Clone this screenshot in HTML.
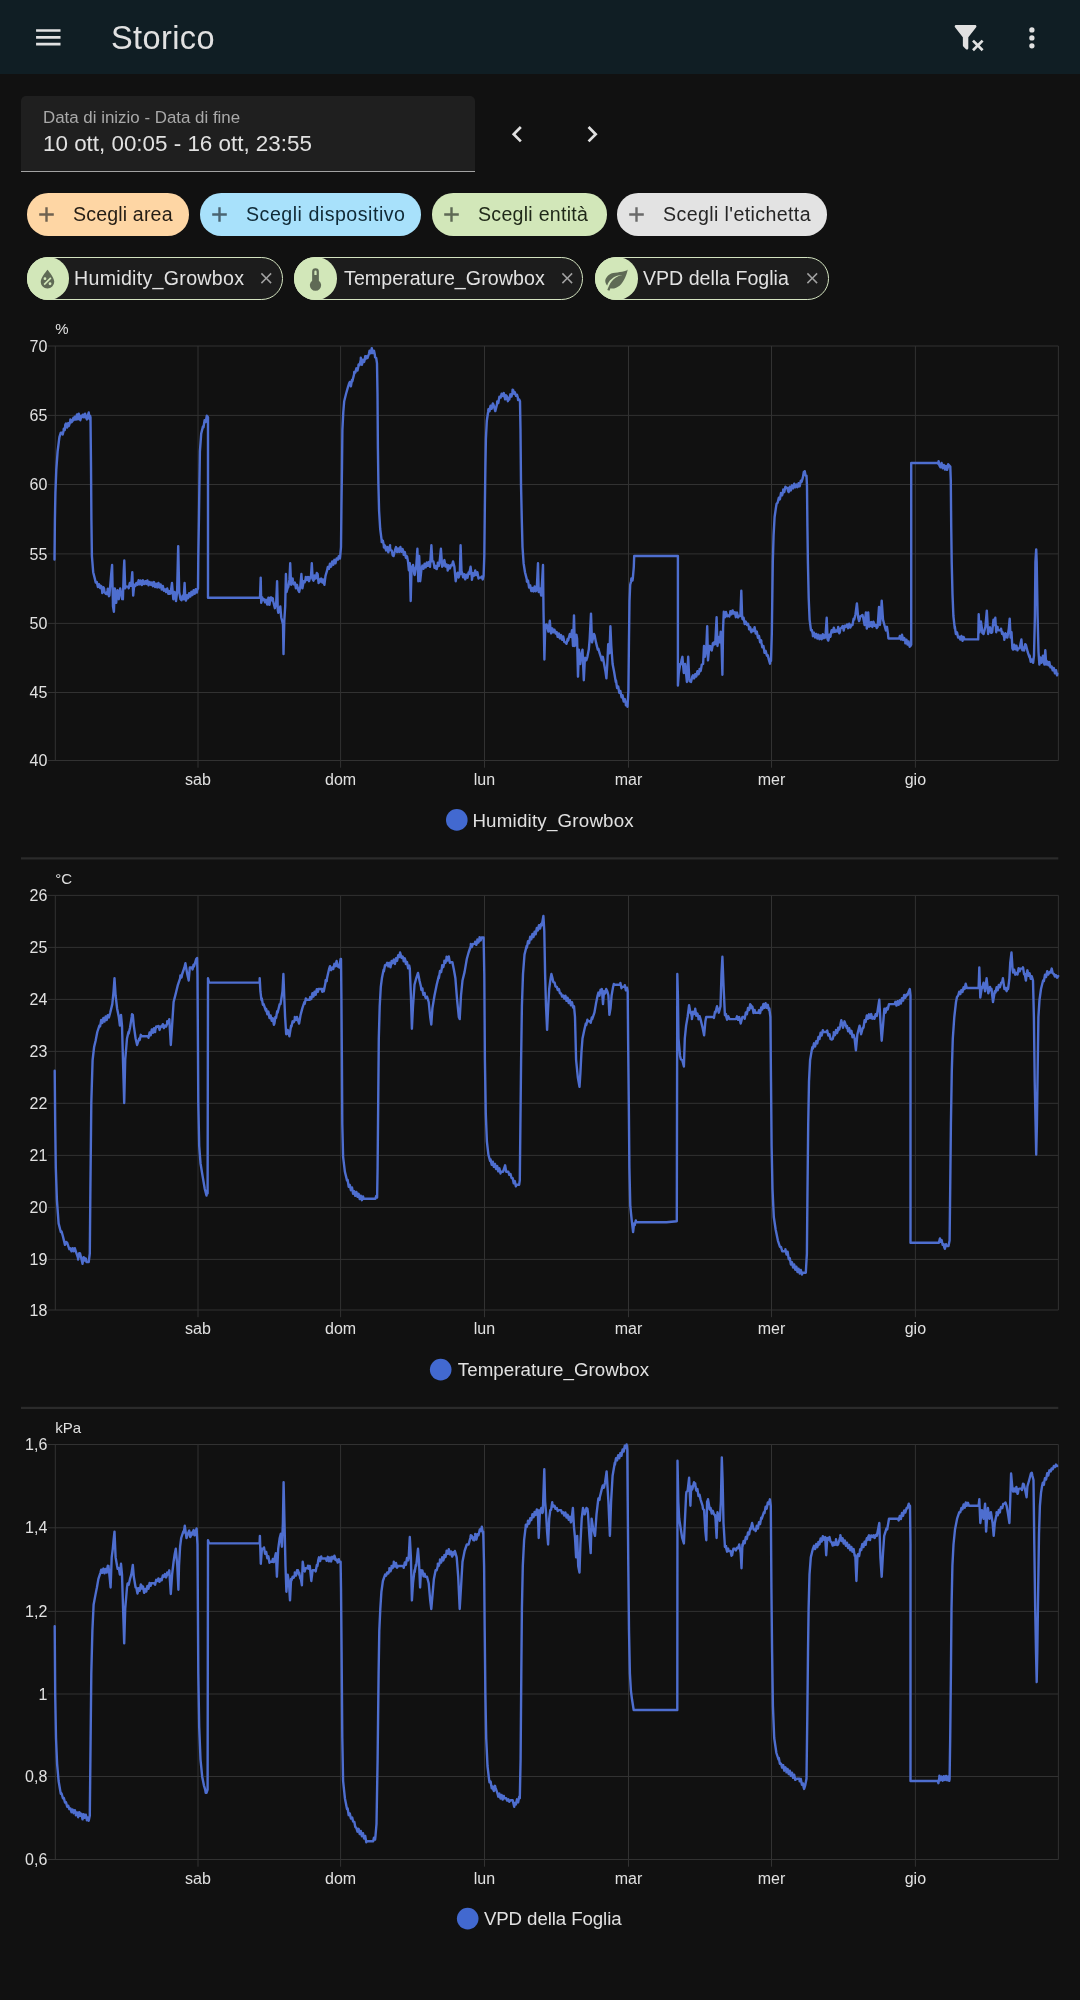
<!DOCTYPE html>
<html><head><meta charset="utf-8"><title>Storico</title>
<style>
html,body{margin:0;padding:0;}
body{width:1080px;height:2000px;overflow:hidden;background:#111111;position:relative;font-family:"Liberation Sans",sans-serif;color:#e1e1e1;}
.hdr{position:absolute;left:0;top:0;width:1080px;height:74.4px;background:#101e24;}
.title{will-change:transform;position:absolute;left:111.0px;top:1.2px;height:74px;line-height:74px;font-size:32.5px;color:#e1e1e1;letter-spacing:0.4px;}
.ic{position:absolute;display:block;}
.date{position:absolute;left:21.3px;top:96.3px;width:453.6px;height:75.7px;background:#1f1f1f;border-radius:5px 5px 0 0;box-sizing:border-box;border-bottom:1.4px solid #a3a3a3;}
.dlab{will-change:transform;position:absolute;left:42.8px;top:108.3px;font-size:16.9px;color:#a9a9a9;white-space:nowrap;}
.dval{will-change:transform;position:absolute;left:42.8px;top:130.8px;font-size:22.4px;color:#e1e1e1;white-space:nowrap;}
.chip{position:absolute;height:42.5px;border-radius:21.25px;}
.echip{position:absolute;height:42.5px;border-radius:21.25px;box-sizing:border-box;border:1.8px solid #d3e3c0;background:#1c1c1c;}
.ecirc{position:absolute;width:42.5px;height:42.5px;border-radius:50%;background:#d2e7b9;}
.ctext{will-change:transform;position:absolute;height:42.5px;line-height:42.5px;font-size:19.6px;white-space:nowrap;letter-spacing:0.15px;}
svg.charts{position:absolute;left:0;top:0;will-change:transform;}
.ax{font-family:"Liberation Sans",sans-serif;font-size:16px;fill:#e1e1e1;}
.un{font-family:"Liberation Sans",sans-serif;font-size:15px;fill:#e1e1e1;}
.lg{font-family:"Liberation Sans",sans-serif;font-size:18.7px;fill:#e1e1e1;}
</style></head><body>
<div class="hdr"></div>
<svg class="ic" style="left:31.9px;top:21.1px;width:32.6px;height:32.6px" viewBox="0 0 24 24"><path d="M3,6H21V8H3V6M3,11H21V13H3V11M3,16H21V18H3V16Z" fill="#e1e1e1"/></svg>
<div class="title">Storico</div>
<svg class="ic" style="left:951.7px;top:20.9px;width:32.6px;height:32.6px" viewBox="0 0 24 24"><path d="M14.76,20.83L17.6,18L14.76,15.17L16.17,13.76L19,16.57L21.83,13.76L23.24,15.17L20.42,18L23.24,20.83L21.83,22.24L19,19.42L16.17,22.24L14.76,20.83M12,12V19.88C12.04,20.18 11.94,20.5 11.71,20.71C11.32,21.1 10.69,21.1 10.3,20.71L8.29,18.7C8.06,18.47 7.96,18.16 8,17.87V12H7.97L2.21,4.62C1.87,4.19 1.95,3.56 2.38,3.22C2.57,3.08 2.78,3 3,3V3H17V3C17.22,3 17.43,3.08 17.62,3.22C18.05,3.56 18.13,4.19 17.79,4.62L12.03,12H12Z" fill="#e1e1e1"/></svg>
<svg class="ic" style="left:1016.1px;top:21.9px;width:31.8px;height:31.8px" viewBox="0 0 24 24"><path d="M12,16A2,2 0 0,1 14,18A2,2 0 0,1 12,20A2,2 0 0,1 10,18A2,2 0 0,1 12,16M12,10A2,2 0 0,1 14,12A2,2 0 0,1 12,14A2,2 0 0,1 10,12A2,2 0 0,1 12,10M12,4A2,2 0 0,1 14,6A2,2 0 0,1 12,8A2,2 0 0,1 10,6A2,2 0 0,1 12,4Z" fill="#e1e1e1"/></svg>
<div class="date"></div>
<div class="dlab">Data di inizio - Data di fine</div>
<div class="dval">10 ott, 00:05 - 16 ott, 23:55</div>
<svg class="ic" style="left:501.2px;top:117.8px;width:32.4px;height:32.4px" viewBox="0 0 24 24"><path d="M15.41,16.58L10.83,12L15.41,7.41L14,6L8,12L14,18L15.41,16.58Z" fill="#e1e1e1"/></svg>
<svg class="ic" style="left:575.9px;top:117.8px;width:32.4px;height:32.4px" viewBox="0 0 24 24"><path d="M8.59,16.58L13.17,12L8.59,7.41L10,6L16,12L10,18L8.59,16.58Z" fill="#e1e1e1"/></svg>
<div class="chip" style="left:26.7px;top:193.2px;width:162.6px;background:#fed6a4"></div>
<svg class="ic" style="left:34.099999999999994px;top:201.95px;width:25px;height:25px" viewBox="0 0 24 24"><path d="M19,13.15H13.15V19H10.85V13.15H5V10.85H10.85V5H13.15V10.85H19V13.15Z" fill="#6f6250"/></svg>
<div class="ctext" style="left:72.7px;top:193.2px;color:#241d15;letter-spacing:0.15px">Scegli area</div>
<div class="chip" style="left:199.6px;top:193.2px;width:221.5px;background:#a8e1fb"></div>
<svg class="ic" style="left:207.0px;top:201.95px;width:25px;height:25px" viewBox="0 0 24 24"><path d="M19,13.15H13.15V19H10.85V13.15H5V10.85H10.85V5H13.15V10.85H19V13.15Z" fill="#4a6472"/></svg>
<div class="ctext" style="left:246.0px;top:193.2px;color:#102a36;letter-spacing:0.51px">Scegli dispositivo</div>
<div class="chip" style="left:431.6px;top:193.2px;width:175.1px;background:#d2e7b9"></div>
<svg class="ic" style="left:439.0px;top:201.95px;width:25px;height:25px" viewBox="0 0 24 24"><path d="M19,13.15H13.15V19H10.85V13.15H5V10.85H10.85V5H13.15V10.85H19V13.15Z" fill="#5f6a55"/></svg>
<div class="ctext" style="left:478.3px;top:193.2px;color:#1f2818;letter-spacing:0.26px">Scegli entità</div>
<div class="chip" style="left:616.7px;top:193.2px;width:210.4px;background:#e3e3e3"></div>
<svg class="ic" style="left:624.1px;top:201.95px;width:25px;height:25px" viewBox="0 0 24 24"><path d="M19,13.15H13.15V19H10.85V13.15H5V10.85H10.85V5H13.15V10.85H19V13.15Z" fill="#6a6a6a"/></svg>
<div class="ctext" style="left:662.7px;top:193.2px;color:#262626;letter-spacing:0.39px">Scegli l'etichetta</div>
<div class="echip" style="left:26.5px;top:257.3px;width:256.7px"></div>
<div class="ecirc" style="left:26.5px;top:257.3px"></div>
<svg class="ic" style="left:34.35px;top:266.1px;width:27px;height:27px" viewBox="0 0 24 24"><path d="M12,3.25C12,3.25 6,10 6,14C6,17.32 8.69,20 12,20A6,6 0 0,0 18,14C18,10 12,3.25 12,3.25M14.47,9.97L15.53,11.03L9.53,17.03L8.47,15.97M9.75,10A1.25,1.25 0 0,1 11,11.25A1.25,1.25 0 0,1 9.75,12.5A1.25,1.25 0 0,1 8.5,11.25A1.25,1.25 0 0,1 9.75,10M14.25,14.5A1.25,1.25 0 0,1 15.5,15.75A1.25,1.25 0 0,1 14.25,17A1.25,1.25 0 0,1 13,15.75A1.25,1.25 0 0,1 14.25,14.5Z" fill="#5f6a55"/></svg>
<div class="ctext" style="left:73.9px;top:257.3px;color:#e1e1e1;letter-spacing:0.3px">Humidity_Growbox</div>
<svg class="ic" style="left:256.55px;top:269.35px;width:18.5px;height:18.5px" viewBox="0 0 24 24"><path d="M19,6.41L17.59,5L12,10.59L6.41,5L5,6.41L10.59,12L5,17.59L6.41,19L12,13.41L17.59,19L19,17.59L13.41,12L19,6.41Z" fill="#a2a2a2"/></svg>
<div class="echip" style="left:294.3px;top:257.3px;width:288.8px"></div>
<div class="ecirc" style="left:294.3px;top:257.3px"></div>
<svg class="ic" style="left:302.15000000000003px;top:266.1px;width:27px;height:27px" viewBox="0 0 24 24"><path d="M15 13V5A3 3 0 0 0 9 5V13A5 5 0 1 0 15 13M12 4A1 1 0 0 1 13 5V8H11V5A1 1 0 0 1 12 4Z" fill="#5f6a55"/></svg>
<div class="ctext" style="left:343.5px;top:257.3px;color:#e1e1e1;letter-spacing:0.08px">Temperature_Growbox</div>
<svg class="ic" style="left:557.65px;top:269.35px;width:18.5px;height:18.5px" viewBox="0 0 24 24"><path d="M19,6.41L17.59,5L12,10.59L6.41,5L5,6.41L10.59,12L5,17.59L6.41,19L12,13.41L17.59,19L19,17.59L13.41,12L19,6.41Z" fill="#a2a2a2"/></svg>
<div class="echip" style="left:595.1px;top:257.3px;width:234.2px"></div>
<div class="ecirc" style="left:595.1px;top:257.3px"></div>
<svg class="ic" style="left:602.95px;top:266.1px;width:27px;height:27px" viewBox="0 0 24 24"><path d="M17,8C8,10 5.9,16.17 3.82,21.34L5.71,22L6.66,19.7C7.14,19.87 7.64,20 8,20C19,20 22,3 22,3C21,5 14,5.25 9,6.25C4,7.25 2,11.5 2,13.5C2,15.5 3.75,17.25 3.75,17.25C7,8 17,8 17,8Z" fill="#5f6a55"/></svg>
<div class="ctext" style="left:642.7px;top:257.3px;color:#e1e1e1;letter-spacing:-0.01px">VPD della Foglia</div>
<svg class="ic" style="left:802.95px;top:269.35px;width:18.5px;height:18.5px" viewBox="0 0 24 24"><path d="M19,6.41L17.59,5L12,10.59L6.41,5L5,6.41L10.59,12L5,17.59L6.41,19L12,13.41L17.59,19L19,17.59L13.41,12L19,6.41Z" fill="#a2a2a2"/></svg>
<svg class="charts" width="1080" height="2000" viewBox="0 0 1080 2000">
<line x1="47.8" y1="346.00" x2="1058.4" y2="346.00" stroke="#323232" stroke-width="1"/>
<text x="47.3" y="351.60" text-anchor="end" class="ax">70</text>
<line x1="47.8" y1="415.40" x2="1058.4" y2="415.40" stroke="#323232" stroke-width="1"/>
<text x="47.3" y="421.00" text-anchor="end" class="ax">65</text>
<line x1="47.8" y1="484.50" x2="1058.4" y2="484.50" stroke="#323232" stroke-width="1"/>
<text x="47.3" y="490.10" text-anchor="end" class="ax">60</text>
<line x1="47.8" y1="553.90" x2="1058.4" y2="553.90" stroke="#323232" stroke-width="1"/>
<text x="47.3" y="559.50" text-anchor="end" class="ax">55</text>
<line x1="47.8" y1="623.40" x2="1058.4" y2="623.40" stroke="#323232" stroke-width="1"/>
<text x="47.3" y="629.00" text-anchor="end" class="ax">50</text>
<line x1="47.8" y1="692.50" x2="1058.4" y2="692.50" stroke="#323232" stroke-width="1"/>
<text x="47.3" y="698.10" text-anchor="end" class="ax">45</text>
<line x1="47.8" y1="760.50" x2="1058.4" y2="760.50" stroke="#323232" stroke-width="1"/>
<text x="47.3" y="766.10" text-anchor="end" class="ax">40</text>
<line x1="55.3" y1="346.0" x2="55.3" y2="760.5" stroke="#323232" stroke-width="1"/>
<line x1="1058.4" y1="346.0" x2="1058.4" y2="760.5" stroke="#323232" stroke-width="1"/>
<line x1="198.0" y1="346.0" x2="198.0" y2="767.70" stroke="#323232" stroke-width="1"/>
<text x="198.0" y="784.80" text-anchor="middle" class="ax">sab</text>
<line x1="340.6" y1="346.0" x2="340.6" y2="767.70" stroke="#323232" stroke-width="1"/>
<text x="340.6" y="784.80" text-anchor="middle" class="ax">dom</text>
<line x1="484.5" y1="346.0" x2="484.5" y2="767.70" stroke="#323232" stroke-width="1"/>
<text x="484.5" y="784.80" text-anchor="middle" class="ax">lun</text>
<line x1="628.5" y1="346.0" x2="628.5" y2="767.70" stroke="#323232" stroke-width="1"/>
<text x="628.5" y="784.80" text-anchor="middle" class="ax">mar</text>
<line x1="771.5" y1="346.0" x2="771.5" y2="767.70" stroke="#323232" stroke-width="1"/>
<text x="771.5" y="784.80" text-anchor="middle" class="ax">mer</text>
<line x1="915.4" y1="346.0" x2="915.4" y2="767.70" stroke="#323232" stroke-width="1"/>
<text x="915.4" y="784.80" text-anchor="middle" class="ax">gio</text>
<text x="55.3" y="334.10" class="un">%</text>
<path d="M54.5,559.6 L54.9,520.0 L55.4,493.0 L56.3,469.6 L57.6,451.6 L59.4,437.2 L60.8,432.7 L62.6,432.7 L62.7,434.6 L63.5,430.9 L63.8,428.6 L64.8,430.0 L65.3,424.6 L66.0,423.5 L66.6,426.4 L67.1,427.6 L67.6,424.6 L68.2,423.1 L68.9,426.0 L70.2,421.9 L70.4,419.4 L71.2,420.1 L71.5,422.4 L72.5,421.0 L73.4,417.8 L73.7,420.1 L74.8,416.8 L75.2,419.2 L75.9,419.6 L76.6,415.6 L77.0,414.5 L77.9,419.2 L78.8,413.8 L80.2,418.3 L80.3,420.3 L81.5,415.6 L82.5,417.0 L82.8,414.7 L83.6,414.7 L83.8,417.4 L84.7,417.0 L85.1,413.8 L86.4,418.3 L86.9,419.4 L87.8,415.6 L88.7,412.5 L89.6,419.2 L90.0,415.6 L90.5,417.4 L91.0,466.0 L91.4,520.0 L91.9,556.0 L93.2,572.2 L95.0,579.4 L95.7,582.6 L96.8,582.1 L97.9,587.0 L98.6,586.6 L99.0,584.3 L100.1,588.0 L100.4,585.7 L101.2,586.0 L102.2,591.1 L102.3,593.1 L103.4,587.2 L104.0,588.4 L104.5,592.0 L105.8,593.8 L106.7,594.1 L107.6,590.2 L107.8,588.7 L108.9,596.2 L109.4,595.6 L111.2,574.0 L112.1,565.0 L113.0,606.4 L113.9,611.8 L114.8,588.4 L116.2,602.8 L117.5,590.2 L118.8,599.2 L120.2,588.4 L121.6,595.6 L122.1,599.0 L122.9,599.2 L123.8,570.4 L124.3,560.5 L125.2,588.4 L125.4,586.1 L126.5,586.6 L128.3,586.6 L128.7,588.3 L129.8,583.0 L130.1,584.8 L130.9,585.8 L131.4,583.0 L132.3,572.2 L133.2,595.6 L134.2,584.8 L135.3,586.0 L136.4,583.0 L137.5,584.7 L138.6,580.2 L139.1,582.1 L139.7,584.4 L140.8,580.6 L141.8,583.0 L141.9,585.1 L143.0,580.3 L144.1,584.0 L145.4,581.2 L146.3,583.9 L147.4,580.4 L148.1,583.0 L148.5,585.4 L149.6,581.9 L150.8,584.8 L151.8,582.4 L152.9,586.2 L153.5,583.9 L154.0,582.1 L155.1,587.1 L156.2,585.7 L156.2,583.6 L157.3,587.4 L158.4,582.9 L158.9,584.8 L159.5,587.5 L160.6,584.4 L161.6,587.5 L161.7,589.6 L162.8,586.0 L163.9,590.8 L165.2,589.3 L166.1,592.0 L167.2,588.5 L167.9,591.1 L168.3,593.8 L169.4,591.2 L169.7,593.8 L170.5,593.6 L171.0,590.2 L172.0,583.0 L173.3,599.2 L174.6,592.0 L176.0,601.0 L177.1,592.0 L178.2,546.1 L179.2,592.0 L180.5,599.2 L181.5,600.3 L182.3,597.4 L182.6,595.7 L183.6,599.2 L184.6,583.0 L185.4,599.2 L185.9,600.6 L186.8,597.4 L187.0,595.1 L188.1,598.2 L188.6,595.6 L189.2,593.1 L190.3,596.6 L191.3,593.8 L191.4,591.6 L192.5,595.1 L193.6,590.2 L194.0,592.0 L194.7,593.8 L195.8,589.1 L196.2,591.1 L196.9,592.6 L197.2,590.2 L198.0,588.4 L198.3,556.0 L198.9,520.0 L199.4,484.0 L199.9,451.6 L201.2,433.6 L203.0,426.4 L203.5,427.2 L204.6,420.3 L205.2,421.0 L205.7,422.1 L206.8,415.7 L207.5,416.5 L208.0,417.4 L208.0,597.8 L230.0,597.8 L260.0,597.8 L260.7,577.6 L261.2,602.8 L262.3,597.4 L262.9,600.1 L264.1,599.2 L265.1,602.3 L265.9,601.0 L266.2,599.8 L267.2,604.6 L268.2,599.2 L268.4,597.6 L269.5,602.8 L269.5,604.9 L270.6,597.4 L271.3,597.4 L271.7,600.3 L272.8,598.3 L273.1,601.0 L274.9,608.2 L276.2,602.8 L277.1,581.2 L277.8,610.0 L278.3,612.8 L279.0,611.8 L280.3,606.4 L281.2,617.2 L282.1,620.8 L283.0,624.4 L283.5,654.1 L284.3,620.8 L285.2,606.4 L285.9,574.0 L286.6,592.0 L287.5,588.4 L288.4,586.6 L289.5,579.4 L290.2,563.2 L291.1,584.8 L292.0,579.4 L292.6,578.5 L292.9,581.2 L293.7,584.4 L294.2,583.0 L294.8,582.5 L295.6,586.6 L295.9,588.3 L297.0,584.8 L298.3,590.2 L299.2,592.0 L300.3,586.6 L301.4,574.0 L302.4,588.4 L303.7,581.2 L304.7,582.3 L305.5,579.4 L305.8,577.0 L306.9,580.1 L307.3,577.6 L308.0,576.9 L309.1,581.2 L310.2,576.9 L310.9,577.6 L311.8,563.2 L312.7,579.4 L313.5,580.7 L314.5,577.6 L314.6,575.4 L315.7,578.5 L316.3,575.8 L316.8,573.0 L317.6,574.0 L318.6,583.0 L319.0,579.9 L319.9,579.4 L320.1,581.7 L321.2,578.6 L321.7,581.2 L322.3,582.4 L323.0,579.4 L324.4,584.8 L325.5,575.8 L327.1,570.4 L327.8,566.9 L328.9,566.8 L328.9,568.9 L330.0,563.6 L330.7,565.0 L331.1,566.7 L332.2,561.4 L332.5,563.2 L333.3,564.8 L334.4,559.8 L335.2,561.4 L335.5,563.3 L336.6,558.4 L337.9,559.6 L338.8,556.1 L339.9,558.6 L340.2,556.0 L341.0,547.0 L341.5,502.0 L342.0,466.0 L342.4,430.0 L343.3,412.0 L344.2,401.2 L346.0,394.0 L347.8,387.7 L349.2,383.2 L349.8,381.9 L350.5,385.0 L350.9,386.3 L352.0,379.9 L352.3,381.4 L354.1,374.2 L354.2,372.0 L355.4,372.4 L356.4,368.3 L356.8,369.7 L357.5,370.5 L358.2,367.0 L358.6,364.4 L359.5,365.2 L360.8,359.8 L360.8,357.8 L361.9,364.8 L362.2,363.4 L363.0,359.6 L363.5,360.7 L364.1,362.0 L364.9,358.9 L365.2,356.2 L366.2,356.2 L366.3,358.5 L367.6,358.0 L369.0,353.5 L369.6,350.6 L370.3,351.7 L370.7,353.4 L371.8,348.1 L372.1,349.9 L372.9,353.1 L373.4,351.7 L374.0,350.8 L374.8,354.4 L375.1,357.3 L376.2,358.0 L377.0,363.4 L377.5,394.0 L377.9,448.0 L378.4,484.0 L379.1,511.0 L380.2,529.0 L381.6,539.8 L381.7,542.1 L382.8,540.6 L383.8,545.2 L383.9,547.5 L385.0,545.5 L385.6,548.8 L386.1,550.4 L387.4,547.0 L388.3,552.4 L390.1,545.2 L390.0,547.0 L390.5,550.1 L391.8,550.6 L392.7,555.4 L393.6,556.0 L395.4,548.8 L396.0,547.1 L397.1,552.0 L398.1,550.6 L398.2,548.4 L399.3,551.9 L400.4,547.0 L400.8,548.8 L401.5,551.8 L402.6,549.1 L403.5,552.4 L403.7,554.8 L404.8,552.0 L405.9,557.7 L406.2,556.0 L407.0,556.3 L408.0,561.4 L408.9,570.4 L409.8,563.2 L410.7,601.0 L411.6,566.8 L412.5,567.8 L413.0,565.0 L414.3,574.0 L414.7,574.9 L415.8,567.4 L416.1,568.6 L417.4,548.8 L418.3,581.2 L419.2,556.0 L420.2,581.2 L421.5,568.6 L422.4,565.6 L423.3,566.8 L423.5,568.8 L424.6,563.8 L425.7,567.3 L426.0,565.0 L426.8,562.4 L427.9,565.8 L428.7,563.2 L429.0,562.0 L430.0,566.8 L431.4,545.2 L432.3,561.4 L433.4,561.5 L434.1,565.0 L434.5,567.9 L435.6,565.9 L435.9,568.6 L436.7,569.1 L437.7,565.0 L437.8,562.8 L438.9,565.9 L439.5,563.2 L440.9,548.8 L442.2,566.8 L442.2,564.7 L443.3,565.6 L444.0,561.4 L444.4,560.1 L445.5,566.5 L445.8,565.0 L446.6,564.5 L447.6,568.6 L447.7,570.6 L448.8,565.3 L449.4,566.8 L449.9,568.4 L451.2,565.0 L452.1,565.3 L453.0,561.4 L454.4,566.8 L455.7,581.2 L457.0,574.0 L457.6,572.7 L458.4,575.8 L458.7,577.5 L459.8,574.0 L460.6,545.2 L461.6,574.0 L462.0,572.2 L463.1,577.3 L463.8,575.8 L464.2,574.1 L465.3,579.4 L465.6,577.6 L466.4,574.7 L467.4,575.8 L467.5,577.8 L468.6,572.5 L469.2,574.0 L470.6,566.8 L471.9,577.6 L471.9,579.7 L473.0,573.3 L473.7,574.0 L474.1,575.7 L475.2,570.4 L475.5,572.2 L476.3,575.1 L477.3,574.0 L477.4,572.1 L478.5,578.5 L479.1,577.6 L480.9,577.6 L481.8,576.4 L482.7,579.4 L483.6,575.8 L484.3,556.0 L484.9,502.0 L485.4,466.0 L485.9,439.0 L486.8,421.0 L488.1,412.0 L488.4,409.3 L489.5,411.3 L489.9,408.4 L490.6,405.6 L491.7,406.6 L491.7,408.7 L492.8,403.4 L493.5,404.8 L495.3,411.1 L497.1,403.9 L497.2,401.5 L498.3,403.0 L498.9,399.4 L499.4,396.8 L500.7,397.6 L501.6,393.7 L502.5,394.0 L502.7,396.0 L503.8,393.1 L505.2,399.4 L506.0,395.3 L506.6,395.8 L507.9,401.2 L508.2,398.2 L509.2,397.6 L509.3,399.6 L510.4,394.3 L511.0,395.8 L511.5,396.5 L512.4,392.2 L512.6,389.7 L513.3,390.4 L513.7,393.6 L514.6,394.0 L514.8,392.2 L516.0,395.8 L517.0,394.7 L517.8,397.6 L518.1,400.1 L519.2,399.4 L520.0,401.2 L520.5,430.0 L521.0,484.0 L521.8,520.0 L522.5,547.0 L523.6,563.2 L525.0,572.2 L526.8,579.4 L526.9,581.8 L528.0,580.5 L529.1,587.6 L529.5,586.6 L530.2,585.4 L531.3,591.1 L532.2,590.2 L532.4,588.0 L533.5,591.4 L534.6,586.5 L534.9,588.4 L535.7,591.3 L536.7,590.2 L538.0,563.2 L538.7,592.0 L539.8,588.4 L541.2,595.6 L542.1,581.2 L543.0,565.0 L543.5,610.0 L544.4,659.5 L545.2,628.0 L545.6,624.8 L546.6,624.4 L548.4,631.6 L549.8,620.8 L550.7,631.6 L551.1,633.4 L552.2,628.3 L552.9,629.8 L553.3,632.4 L554.4,629.7 L555.6,633.4 L556.6,632.0 L557.7,636.9 L558.3,635.2 L558.8,633.4 L559.9,638.4 L561.0,637.0 L561.0,634.9 L562.1,639.8 L563.2,636.4 L563.7,638.8 L564.3,642.1 L565.5,642.4 L566.5,643.8 L567.6,638.9 L568.2,640.6 L569.0,637.0 L569.8,634.1 L570.8,635.2 L570.9,637.0 L572.0,630.1 L572.2,631.6 L573.0,646.0 L574.0,615.4 L574.8,646.0 L575.8,635.2 L576.4,634.7 L577.1,638.8 L578.0,676.6 L578.9,649.6 L580.2,664.0 L581.2,655.0 L582.5,649.6 L583.8,680.2 L584.8,660.4 L585.2,657.8 L586.1,658.6 L586.3,660.4 L587.4,656.8 L588.8,649.6 L589.7,638.8 L591.0,613.6 L592.0,642.4 L593.3,637.0 L594.0,633.9 L594.6,635.2 L596.0,642.4 L597.8,649.6 L598.4,648.7 L599.6,653.2 L601.4,658.6 L601.7,660.3 L602.8,656.8 L604.1,664.0 L605.4,671.2 L606.4,678.4 L607.3,664.0 L608.2,644.2 L609.5,653.2 L610.4,626.2 L611.3,646.0 L612.6,664.0 L614.0,671.2 L615.8,682.0 L616.0,680.5 L617.1,688.0 L617.6,687.4 L618.2,686.5 L619.3,692.9 L620.3,692.8 L620.4,690.9 L621.5,697.3 L622.6,695.3 L623.0,698.2 L623.7,701.5 L624.8,699.1 L625.7,702.7 L625.9,705.3 L627.0,703.6 L627.5,706.8 L628.4,691.0 L628.9,646.0 L629.5,601.0 L630.2,584.8 L631.1,581.2 L631.4,578.5 L632.5,580.5 L632.9,577.6 L633.8,566.8 L634.2,556.0 L677.9,556.0 L677.9,685.6 L678.8,673.0 L680.2,664.0 L680.9,664.2 L681.5,660.4 L682.4,656.8 L683.8,673.0 L685.1,664.0 L686.9,682.0 L688.2,656.8 L689.2,678.4 L689.7,681.4 L690.8,679.4 L691.0,682.0 L692.3,676.6 L693.0,675.2 L694.1,678.4 L695.2,674.1 L695.9,674.8 L696.3,676.5 L697.4,671.2 L697.7,673.0 L698.5,674.3 L699.5,671.2 L699.6,668.9 L700.7,670.9 L701.3,667.6 L701.8,664.5 L703.1,664.0 L704.0,646.0 L704.9,656.8 L706.2,649.6 L707.2,626.2 L708.0,660.4 L709.4,646.0 L709.5,648.3 L710.6,646.3 L711.2,649.6 L711.7,650.4 L712.6,646.0 L712.8,643.4 L713.9,642.4 L713.9,644.5 L715.2,644.2 L716.6,617.2 L717.5,646.0 L718.4,637.0 L719.8,642.4 L720.7,631.6 L721.6,646.0 L722.4,674.8 L723.1,628.0 L723.8,611.8 L724.7,615.4 L724.9,617.3 L726.0,612.0 L726.5,613.6 L727.1,616.3 L728.3,615.4 L729.3,616.5 L730.1,613.6 L730.4,611.2 L731.5,614.3 L731.9,611.8 L732.6,610.4 L733.7,613.6 L734.8,612.2 L735.9,617.2 L736.4,615.4 L736.3,614.2 L737.0,612.6 L738.1,617.5 L739.0,616.0 L740.4,616.0 L741.3,590.8 L742.1,616.0 L742.5,619.2 L743.5,619.6 L743.6,617.7 L744.7,624.1 L745.3,623.2 L745.8,621.6 L747.1,625.0 L748.0,623.8 L748.9,626.8 L749.1,629.3 L750.2,627.3 L750.7,630.4 L751.3,632.2 L752.5,629.5 L753.5,631.1 L754.3,628.6 L754.6,627.1 L755.7,633.5 L756.1,632.2 L756.8,631.5 L757.9,637.9 L758.8,637.6 L759.0,635.9 L760.1,642.3 L761.2,640.3 L761.5,643.0 L762.3,647.2 L763.4,646.0 L764.2,650.2 L764.5,652.9 L765.6,650.9 L766.9,655.6 L767.8,655.3 L768.7,659.2 L770.0,663.7 L770.0,661.5 L771.0,661.0 L771.8,634.0 L772.3,598.0 L772.8,562.0 L773.6,535.0 L774.6,517.0 L775.9,508.0 L776.6,503.8 L777.7,502.6 L778.8,497.7 L779.5,498.1 L779.9,499.4 L781.0,493.0 L781.3,494.5 L782.1,495.4 L783.1,491.8 L783.2,489.5 L784.3,492.1 L784.9,489.1 L785.4,486.7 L786.7,488.2 L787.6,488.0 L788.0,490.9 L788.7,492.1 L789.4,489.1 L789.8,486.8 L790.9,490.4 L791.2,488.2 L792.0,485.3 L793.0,486.4 L793.1,488.4 L794.2,483.7 L794.8,485.5 L795.3,487.3 L796.6,484.6 L797.5,487.2 L798.4,485.5 L798.6,483.2 L799.7,486.3 L800.2,483.7 L800.8,480.8 L801.6,481.9 L802.9,477.4 L803.8,472.0 L804.1,473.8 L804.7,471.1 L805.6,475.6 L806.5,475.6 L807.0,486.4 L807.4,526.0 L807.9,562.0 L808.7,598.0 L809.6,619.6 L811.0,630.4 L811.8,629.9 L812.8,634.0 L812.9,636.2 L814.0,632.7 L815.1,637.6 L815.5,635.8 L816.2,633.9 L817.3,638.5 L818.2,636.7 L818.4,634.7 L819.5,639.2 L820.6,635.4 L820.9,637.6 L821.7,639.2 L822.8,634.2 L823.6,635.8 L823.9,638.2 L825.0,635.1 L825.4,637.6 L826.7,617.8 L827.6,639.4 L828.3,640.6 L829.0,637.6 L829.4,634.7 L830.5,636.7 L830.8,634.0 L831.6,630.3 L832.6,630.4 L832.7,632.4 L833.8,627.7 L834.4,629.5 L834.9,631.9 L836.2,630.4 L837.1,631.6 L838.0,628.6 L838.2,626.9 L839.3,633.3 L839.8,632.2 L840.4,628.6 L841.6,627.7 L842.6,626.1 L843.4,628.6 L843.7,630.5 L844.8,625.6 L846.1,626.8 L847.0,624.4 L848.1,628.2 L848.8,625.9 L849.2,623.7 L850.3,627.5 L851.5,625.0 L852.5,625.1 L853.6,618.7 L854.2,619.6 L855.5,614.2 L856.9,603.4 L858.2,617.8 L859.1,621.1 L859.6,619.6 L860.2,616.3 L861.4,616.0 L862.4,614.9 L863.2,617.8 L864.6,625.0 L865.9,612.4 L866.8,628.6 L868.2,612.4 L869.0,626.8 L869.0,624.6 L870.1,626.0 L870.4,623.2 L871.2,621.9 L872.2,625.0 L872.3,627.0 L873.4,621.7 L874.0,623.2 L874.5,625.8 L875.8,625.0 L876.7,628.0 L877.6,626.8 L879.0,607.0 L879.9,625.0 L880.8,616.0 L881.7,600.7 L883.0,619.6 L884.4,625.0 L885.9,630.4 L887.0,626.8 L888.0,634.0 L888.4,638.5 L899.2,638.5 L899.8,636.0 L900.9,639.5 L901.9,636.7 L902.0,634.7 L903.1,640.0 L903.7,638.5 L903.5,639.4 L904.2,638.0 L905.3,641.2 L905.3,643.3 L906.4,639.7 L907.1,642.1 L907.5,644.6 L908.6,641.5 L908.9,643.9 L909.7,646.8 L910.7,645.7 L910.8,643.4 L911.2,644.8 L911.2,463.0 L937.7,463.0 L938.3,463.9 L938.6,461.2 L939.5,465.7 L940.5,467.3 L941.3,464.8 L941.6,463.0 L942.7,468.3 L943.1,466.6 L943.8,464.9 L944.9,467.5 L944.9,469.6 L946.0,465.9 L946.7,468.4 L947.1,469.9 L948.0,466.6 L948.2,464.3 L949.4,465.7 L950.3,466.6 L950.8,481.0 L951.2,526.0 L951.7,562.0 L952.5,594.4 L953.4,616.0 L954.8,628.6 L954.8,626.5 L955.9,634.0 L956.6,634.0 L957.0,632.3 L958.1,637.6 L959.3,636.7 L960.3,639.5 L961.4,636.0 L962.0,638.5 L962.5,640.8 L963.6,636.9 L964.7,639.4 L967.4,639.4 L978.2,639.4 L978.7,614.2 L979.6,632.2 L980.9,621.4 L982.2,630.4 L982.3,632.9 L983.6,634.0 L985.4,626.8 L986.8,610.6 L988.1,634.0 L989.4,628.6 L990.0,627.3 L990.8,630.4 L991.1,632.9 L992.2,632.2 L993.5,619.6 L994.4,625.0 L995.3,617.8 L996.2,632.2 L997.6,626.8 L997.7,629.1 L998.9,630.4 L1000.7,630.4 L1001.0,628.6 L1002.1,633.9 L1002.5,632.2 L1004.3,637.6 L1004.3,639.7 L1005.4,633.3 L1006.1,634.0 L1006.5,637.2 L1007.4,637.6 L1008.8,628.6 L1009.7,618.7 L1010.6,637.6 L1011.5,632.2 L1012.4,648.4 L1013.1,649.6 L1013.8,646.6 L1014.2,644.6 L1015.3,649.3 L1016.0,647.5 L1016.4,645.6 L1017.5,650.4 L1017.8,648.4 L1019.6,648.4 L1021.4,639.4 L1022.3,650.2 L1023.0,647.4 L1024.1,648.4 L1024.1,650.5 L1025.2,644.1 L1025.9,644.8 L1027.7,652.0 L1029.5,657.4 L1029.6,655.5 L1030.7,661.9 L1031.3,661.0 L1031.8,659.4 L1033.1,662.8 L1034.0,655.6 L1034.9,616.0 L1035.4,562.0 L1036.2,549.4 L1036.7,562.0 L1037.6,616.0 L1038.5,652.0 L1039.4,664.6 L1040.3,657.4 L1041.6,662.8 L1043.0,655.6 L1044.4,664.6 L1045.3,650.2 L1046.2,664.6 L1047.2,661.5 L1048.0,662.8 L1048.3,665.2 L1049.4,662.1 L1049.8,664.6 L1050.5,667.4 L1051.6,666.4 L1052.7,670.3 L1053.8,670.0 L1053.8,667.9 L1054.9,673.2 L1055.6,671.8 L1056.0,670.1 L1057.1,675.4 L1057.4,673.6" fill="none" stroke="#4e6ecf" stroke-width="2.4" stroke-linejoin="round" stroke-linecap="round"/>
<circle cx="456.8" cy="819.9" r="10.8" fill="#4269d0"/>
<text x="472.4" y="826.7" class="lg" letter-spacing="0.23">Humidity_Growbox</text>
<line x1="47.8" y1="895.40" x2="1058.4" y2="895.40" stroke="#323232" stroke-width="1"/>
<text x="47.3" y="901.00" text-anchor="end" class="ax">26</text>
<line x1="47.8" y1="947.40" x2="1058.4" y2="947.40" stroke="#323232" stroke-width="1"/>
<text x="47.3" y="953.00" text-anchor="end" class="ax">25</text>
<line x1="47.8" y1="999.40" x2="1058.4" y2="999.40" stroke="#323232" stroke-width="1"/>
<text x="47.3" y="1005.00" text-anchor="end" class="ax">24</text>
<line x1="47.8" y1="1051.40" x2="1058.4" y2="1051.40" stroke="#323232" stroke-width="1"/>
<text x="47.3" y="1057.00" text-anchor="end" class="ax">23</text>
<line x1="47.8" y1="1103.30" x2="1058.4" y2="1103.30" stroke="#323232" stroke-width="1"/>
<text x="47.3" y="1108.90" text-anchor="end" class="ax">22</text>
<line x1="47.8" y1="1155.40" x2="1058.4" y2="1155.40" stroke="#323232" stroke-width="1"/>
<text x="47.3" y="1161.00" text-anchor="end" class="ax">21</text>
<line x1="47.8" y1="1207.40" x2="1058.4" y2="1207.40" stroke="#323232" stroke-width="1"/>
<text x="47.3" y="1213.00" text-anchor="end" class="ax">20</text>
<line x1="47.8" y1="1259.40" x2="1058.4" y2="1259.40" stroke="#323232" stroke-width="1"/>
<text x="47.3" y="1265.00" text-anchor="end" class="ax">19</text>
<line x1="47.8" y1="1310.00" x2="1058.4" y2="1310.00" stroke="#323232" stroke-width="1"/>
<text x="47.3" y="1315.60" text-anchor="end" class="ax">18</text>
<line x1="55.3" y1="895.4" x2="55.3" y2="1310.0" stroke="#323232" stroke-width="1"/>
<line x1="1058.4" y1="895.4" x2="1058.4" y2="1310.0" stroke="#323232" stroke-width="1"/>
<line x1="198.0" y1="895.4" x2="198.0" y2="1317.20" stroke="#323232" stroke-width="1"/>
<text x="198.0" y="1334.30" text-anchor="middle" class="ax">sab</text>
<line x1="340.6" y1="895.4" x2="340.6" y2="1317.20" stroke="#323232" stroke-width="1"/>
<text x="340.6" y="1334.30" text-anchor="middle" class="ax">dom</text>
<line x1="484.5" y1="895.4" x2="484.5" y2="1317.20" stroke="#323232" stroke-width="1"/>
<text x="484.5" y="1334.30" text-anchor="middle" class="ax">lun</text>
<line x1="628.5" y1="895.4" x2="628.5" y2="1317.20" stroke="#323232" stroke-width="1"/>
<text x="628.5" y="1334.30" text-anchor="middle" class="ax">mar</text>
<line x1="771.5" y1="895.4" x2="771.5" y2="1317.20" stroke="#323232" stroke-width="1"/>
<text x="771.5" y="1334.30" text-anchor="middle" class="ax">mer</text>
<line x1="915.4" y1="895.4" x2="915.4" y2="1317.20" stroke="#323232" stroke-width="1"/>
<text x="915.4" y="1334.30" text-anchor="middle" class="ax">gio</text>
<text x="55.3" y="883.50" class="un">°C</text>
<path d="M54.7,1070.8 L55.2,1124.5 L55.8,1167.5 L56.9,1199.8 L58.6,1223.4 L60.8,1232.0 L61.6,1231.6 L62.9,1236.3 L65.0,1244.9 L66.0,1241.9 L67.2,1242.8 L69.3,1249.2 L70.4,1248.2 L71.5,1251.3 L72.6,1248.2 L73.7,1249.2 L73.7,1251.3 L74.8,1248.2 L75.8,1251.3 L78.0,1257.8 L78.1,1259.6 L79.2,1253.2 L80.1,1253.5 L82.2,1262.1 L82.5,1263.7 L83.6,1257.3 L84.4,1257.8 L84.7,1260.5 L85.8,1258.5 L86.5,1262.1 L88.7,1262.1 L89.8,1253.5 L90.4,1189.0 L91.3,1103.0 L92.6,1060.0 L94.1,1047.1 L95.6,1040.7 L97.3,1032.0 L99.4,1025.6 L100.1,1026.4 L101.2,1020.0 L101.6,1021.3 L102.3,1022.9 L103.4,1018.0 L104.5,1021.5 L104.8,1019.1 L105.6,1016.5 L106.7,1020.0 L107.8,1015.1 L108.0,1017.0 L108.9,1017.4 L110.2,1012.7 L112.3,1004.1 L113.6,991.2 L114.5,978.3 L115.6,995.5 L117.1,1008.4 L118.8,1017.0 L119.9,1025.6 L121.0,1014.9 L122.0,1025.6 L123.1,1064.3 L124.2,1103.0 L125.2,1060.0 L127.0,1038.5 L128.5,1032.0 L128.7,1033.5 L130.0,1027.8 L131.7,1017.0 L132.0,1014.3 L132.8,1014.9 L133.8,1025.6 L135.6,1038.5 L137.1,1045.0 L139.2,1038.5 L139.7,1040.1 L140.8,1034.8 L141.4,1036.3 L144.6,1036.3 L147.8,1036.3 L148.5,1037.8 L149.6,1032.5 L150.0,1034.2 L150.7,1035.2 L151.8,1029.4 L152.1,1031.0 L152.9,1032.8 L154.0,1028.2 L155.1,1032.1 L155.3,1029.9 L156.2,1026.5 L157.5,1026.7 L158.4,1025.9 L159.6,1029.9 L160.6,1026.4 L161.8,1026.7 L162.8,1024.2 L163.9,1028.1 L165.0,1025.6 L166.1,1026.6 L167.2,1023.5 L167.2,1021.3 L168.3,1023.3 L169.3,1019.1 L170.8,1045.0 L172.1,1025.6 L173.6,1002.0 L175.8,993.4 L177.9,984.8 L180.1,978.3 L180.4,975.5 L181.5,977.5 L182.2,974.0 L184.4,967.5 L185.4,963.2 L187.2,974.0 L188.7,980.5 L189.8,967.5 L191.9,967.5 L192.5,969.4 L193.6,964.6 L194.0,966.5 L196.2,959.0 L197.1,957.9 L197.5,974.0 L197.9,1038.5 L198.3,1103.0 L199.2,1146.0 L200.5,1163.2 L202.6,1176.1 L204.8,1189.0 L206.5,1195.5 L206.8,1192.8 L207.6,1193.3 L208.0,978.3 L209.1,982.6 L259.6,982.6 L259.7,978.3 L260.4,991.2 L261.4,999.8 L261.8,998.4 L262.9,1004.8 L263.6,1004.1 L265.8,1010.5 L266.2,1008.9 L267.3,1014.2 L267.9,1012.7 L268.4,1011.6 L269.5,1018.0 L270.1,1017.0 L270.6,1015.4 L271.7,1020.8 L272.2,1019.1 L272.8,1018.2 L273.9,1024.7 L274.4,1023.5 L275.4,1017.0 L276.1,1017.8 L277.2,1011.3 L277.6,1012.7 L279.7,1004.1 L280.5,1004.0 L281.2,999.8 L282.5,991.2 L283.4,974.0 L284.2,995.5 L285.1,1017.0 L286.2,1034.2 L287.1,1033.7 L287.7,1029.9 L289.4,1036.3 L291.1,1025.6 L291.5,1026.6 L292.6,1021.3 L293.7,1022.3 L294.8,1019.1 L294.8,1017.0 L295.9,1020.1 L296.9,1017.0 L299.1,1023.5 L300.6,1014.9 L302.3,1008.4 L304.4,1002.0 L304.7,1003.8 L305.8,998.5 L306.6,999.8 L309.8,999.8 L310.2,996.9 L311.3,999.0 L312.0,995.5 L312.4,993.1 L313.5,996.6 L314.6,991.6 L315.2,993.4 L315.7,994.8 L316.8,989.1 L317.9,991.8 L318.4,989.0 L321.6,989.0 L322.3,991.8 L323.4,988.7 L323.8,991.2 L325.5,982.6 L325.6,980.3 L326.7,981.3 L327.0,978.3 L329.2,968.6 L330.0,966.2 L331.1,970.1 L332.4,967.5 L333.3,968.9 L334.4,963.8 L335.0,965.4 L335.5,966.2 L336.3,962.2 L336.6,961.0 L337.8,966.5 L338.8,965.1 L339.3,967.5 L340.6,959.0 L341.0,959.0 L341.4,995.5 L341.9,1060.0 L342.3,1124.5 L343.1,1156.8 L344.9,1171.8 L347.0,1180.4 L347.6,1179.8 L348.7,1186.7 L349.6,1186.8 L349.8,1185.0 L350.9,1190.2 L351.8,1189.0 L352.0,1187.4 L353.1,1193.8 L353.9,1193.3 L354.2,1191.3 L355.3,1195.9 L356.4,1192.0 L357.1,1194.4 L357.5,1196.8 L358.6,1193.8 L359.7,1199.0 L360.4,1197.6 L360.8,1195.7 L361.9,1200.2 L363.0,1196.4 L363.6,1198.7 L366.8,1198.7 L371.1,1198.7 L375.4,1198.7 L376.2,1196.1 L377.1,1197.6 L377.6,1167.5 L378.2,1103.0 L378.8,1038.5 L379.7,1006.2 L380.8,986.9 L381.9,978.3 L383.6,969.7 L383.9,971.2 L385.0,965.2 L386.1,965.4 L387.2,962.8 L388.3,964.3 L388.3,966.4 L389.4,962.8 L390.4,965.4 L390.5,967.4 L391.6,961.0 L392.6,961.1 L392.7,963.2 L393.8,959.6 L394.8,962.2 L394.9,964.0 L396.0,958.2 L396.9,959.0 L397.1,960.8 L398.2,955.2 L398.6,956.8 L399.3,957.0 L400.1,952.5 L401.6,957.9 L402.6,956.4 L403.4,959.0 L403.7,961.4 L404.8,958.3 L405.5,961.1 L405.9,964.0 L407.0,962.0 L407.6,965.4 L408.1,968.2 L409.2,965.6 L409.8,968.6 L410.9,995.5 L411.9,1028.8 L413.0,1006.2 L414.5,984.8 L416.2,978.3 L418.0,972.9 L419.5,980.5 L421.0,986.9 L421.3,989.8 L422.4,988.4 L422.7,991.2 L423.5,994.9 L424.6,992.9 L424.9,995.5 L425.7,998.0 L427.0,996.6 L428.7,1002.0 L430.2,1017.0 L431.3,1024.5 L432.4,1008.4 L434.5,995.5 L436.7,984.8 L438.8,976.1 L438.9,978.0 L440.0,970.9 L441.1,972.2 L442.0,967.5 L442.2,965.1 L443.3,967.1 L444.2,963.2 L444.4,960.7 L445.5,962.8 L446.4,959.0 L446.6,956.7 L447.7,960.4 L448.5,957.9 L448.8,956.4 L449.9,962.8 L450.6,962.2 L452.4,962.2 L453.9,969.7 L455.4,978.3 L457.1,999.8 L458.8,1017.0 L459.7,1019.1 L461.0,995.5 L462.5,980.5 L464.6,971.9 L466.8,959.0 L468.6,952.5 L470.8,946.0 L470.8,943.9 L471.9,947.0 L472.9,943.9 L475.1,943.9 L475.2,941.6 L476.3,944.8 L477.2,941.8 L477.4,939.4 L478.5,942.5 L479.4,939.6 L479.6,937.2 L480.7,940.4 L481.5,937.5 L483.6,937.5 L484.3,974.0 L484.9,1060.0 L485.8,1113.8 L486.9,1141.7 L488.4,1154.6 L490.1,1161.0 L490.6,1159.5 L491.7,1164.8 L492.2,1163.2 L492.8,1161.7 L493.9,1166.9 L494.4,1165.3 L495.0,1163.9 L496.1,1169.1 L496.6,1167.5 L497.2,1166.1 L498.3,1171.4 L498.7,1169.7 L499.4,1168.3 L500.5,1173.5 L500.9,1171.8 L503.0,1171.8 L505.1,1165.3 L506.2,1171.8 L508.4,1171.8 L509.3,1174.8 L510.5,1174.0 L511.5,1178.0 L512.7,1178.2 L513.7,1183.3 L514.2,1182.5 L514.8,1181.1 L515.9,1186.4 L516.3,1184.7 L519.1,1184.7 L519.8,1180.4 L520.4,1124.5 L521.1,1060.0 L521.9,1006.2 L523.0,974.0 L524.5,954.6 L526.6,946.0 L526.9,947.6 L528.0,941.2 L528.8,941.8 L529.1,943.2 L530.2,936.8 L531.0,937.5 L531.3,939.2 L532.4,933.9 L533.1,935.3 L533.5,937.0 L534.6,931.7 L535.2,933.1 L535.7,934.3 L536.8,927.9 L537.4,928.9 L537.9,930.4 L539.0,925.1 L539.5,926.7 L540.1,928.5 L541.2,923.8 L541.7,925.6 L543.4,916.0 L544.3,931.0 L545.1,974.0 L546.0,1006.2 L547.1,1029.9 L548.1,1008.4 L549.2,989.0 L550.3,980.5 L551.4,974.0 L552.5,978.3 L553.3,982.1 L554.6,982.6 L555.5,986.5 L556.8,986.9 L557.7,990.0 L558.9,989.0 L559.9,993.2 L561.0,993.4 L562.1,996.5 L563.2,995.5 L564.3,998.7 L565.4,997.6 L565.4,995.6 L566.5,1000.9 L567.5,999.8 L567.6,997.8 L568.7,1003.1 L569.6,1002.0 L569.8,1000.0 L570.9,1005.3 L571.8,1004.1 L572.0,1002.2 L573.1,1007.5 L574.0,1006.2 L575.0,1017.0 L576.1,1060.0 L577.8,1077.2 L579.5,1086.9 L580.4,1072.9 L581.5,1051.4 L582.5,1038.5 L584.3,1029.9 L585.8,1023.5 L586.3,1025.0 L587.4,1019.7 L587.9,1021.3 L590.1,1021.3 L590.7,1022.8 L591.8,1017.5 L592.2,1019.1 L594.4,1012.7 L595.9,1004.1 L597.6,995.5 L598.4,992.6 L599.5,995.7 L599.8,993.4 L600.6,989.6 L600.8,991.2 L601.9,989.0 L603.0,1004.1 L604.0,991.2 L605.1,993.4 L606.2,989.0 L607.3,991.2 L608.4,995.5 L609.4,1014.9 L610.5,1008.4 L611.6,995.5 L613.1,986.9 L613.8,983.9 L614.8,984.8 L617.0,984.8 L620.2,984.8 L620.4,982.9 L621.5,988.2 L622.3,986.9 L624.5,986.9 L624.8,985.1 L625.9,990.4 L626.6,989.0 L627.0,987.7 L627.7,991.2 L628.1,1038.5 L628.8,1103.0 L629.4,1167.5 L630.3,1206.2 L631.6,1219.1 L633.1,1232.0 L634.1,1223.4 L634.7,1225.2 L635.8,1220.5 L636.3,1222.3 L666.4,1222.3 L676.8,1221.2 L677.3,974.0 L677.9,995.5 L678.5,1038.5 L680.0,1055.7 L680.9,1059.5 L682.2,1060.0 L683.9,1066.5 L684.8,1038.5 L686.1,1025.6 L687.6,1017.0 L689.1,1005.2 L690.4,1012.7 L690.8,1011.8 L691.9,1017.0 L691.9,1019.0 L693.0,1011.7 L693.4,1012.7 L694.1,1013.9 L695.1,1010.5 L695.2,1008.7 L696.3,1015.7 L696.8,1014.9 L697.4,1013.6 L698.3,1017.0 L698.5,1019.3 L699.6,1016.2 L700.5,1019.1 L702.6,1027.8 L704.1,1035.3 L705.4,1021.3 L706.2,1017.0 L706.9,1017.0 L710.1,1017.0 L713.4,1017.0 L713.9,1018.0 L715.0,1011.6 L715.5,1012.7 L717.0,1006.2 L718.8,1012.7 L720.5,1006.2 L721.5,974.0 L722.4,956.8 L723.5,984.8 L724.8,1012.7 L724.9,1015.2 L726.0,1014.1 L726.3,1017.0 L727.1,1019.7 L728.2,1016.2 L729.5,1019.1 L732.7,1019.1 L736.0,1019.1 L737.0,1016.3 L738.1,1019.8 L739.2,1017.0 L740.7,1023.5 L742.4,1017.0 L744.5,1017.0 L744.7,1018.8 L745.8,1012.4 L746.7,1012.7 L746.9,1014.4 L748.0,1008.0 L748.9,1008.4 L749.1,1010.1 L750.2,1004.3 L751.0,1005.2 L751.3,1008.0 L752.4,1006.6 L753.1,1010.5 L753.5,1013.0 L754.6,1009.9 L755.3,1012.7 L758.5,1012.7 L759.0,1010.1 L760.1,1013.2 L760.7,1010.5 L761.2,1007.4 L762.3,1009.4 L762.8,1006.2 L763.4,1004.0 L764.5,1007.8 L765.6,1003.2 L766.0,1005.2 L766.7,1007.9 L767.8,1004.8 L768.9,1010.1 L769.3,1008.4 L770.4,1017.0 L771.0,1081.5 L771.6,1146.0 L772.5,1189.0 L773.8,1217.0 L775.7,1229.8 L777.9,1240.6 L780.0,1247.0 L781.0,1246.9 L782.2,1251.3 L785.4,1251.3 L785.4,1249.3 L786.5,1254.5 L787.5,1253.5 L787.6,1251.6 L788.7,1259.0 L789.7,1260.0 L789.8,1258.1 L790.9,1264.5 L791.9,1264.2 L792.0,1262.3 L793.1,1267.6 L794.0,1266.4 L794.2,1264.5 L795.3,1269.8 L796.1,1268.5 L796.4,1266.7 L797.5,1272.0 L798.3,1270.7 L798.6,1268.8 L799.7,1273.5 L800.8,1269.9 L801.9,1274.6 L802.6,1272.8 L805.8,1272.8 L806.9,1253.5 L807.5,1189.0 L808.2,1124.5 L809.0,1081.5 L810.1,1060.0 L812.3,1047.1 L812.9,1048.6 L814.0,1043.3 L814.4,1045.0 L815.1,1046.4 L816.2,1041.1 L816.6,1042.8 L817.3,1043.4 L818.4,1037.0 L818.7,1038.5 L819.5,1039.0 L820.6,1032.7 L820.9,1034.2 L821.7,1035.5 L822.8,1030.2 L823.0,1032.0 L826.2,1032.0 L827.2,1030.6 L828.3,1035.5 L829.5,1034.2 L830.5,1038.9 L831.6,1039.6 L832.7,1039.0 L833.8,1034.2 L833.8,1032.1 L834.9,1035.2 L835.9,1032.0 L836.0,1029.9 L837.1,1033.0 L838.1,1029.9 L838.2,1027.6 L839.3,1029.5 L840.2,1025.6 L841.3,1020.2 L843.0,1027.8 L844.5,1021.3 L846.7,1027.8 L847.0,1026.0 L848.1,1031.3 L848.8,1029.9 L849.2,1028.2 L850.3,1033.5 L851.0,1032.0 L851.4,1030.8 L852.5,1037.2 L853.1,1036.3 L853.6,1034.9 L854.6,1038.5 L855.9,1050.3 L857.4,1034.2 L859.6,1025.6 L861.1,1034.2 L862.8,1027.8 L863.5,1027.7 L864.6,1020.2 L865.0,1021.3 L865.7,1021.9 L866.8,1015.5 L867.1,1017.0 L867.9,1018.8 L869.0,1014.3 L870.1,1018.1 L870.3,1015.9 L871.2,1014.1 L872.3,1018.7 L873.5,1017.0 L874.5,1018.8 L875.6,1014.2 L876.8,1015.9 L879.3,999.8 L880.4,1021.3 L881.7,1040.7 L883.0,1025.6 L884.2,1010.5 L884.4,1008.7 L885.5,1012.7 L886.6,1007.9 L887.2,1008.4 L887.7,1009.4 L889.0,1004.1 L891.5,1004.1 L894.8,1004.1 L895.4,1001.8 L896.5,1005.6 L897.6,1001.1 L898.0,1003.0 L898.7,1004.8 L899.8,1000.2 L900.6,1002.0 L900.9,1003.6 L902.0,998.1 L902.3,999.8 L903.1,1000.7 L904.2,994.9 L904.5,996.6 L905.3,997.8 L906.6,994.4 L907.5,995.2 L908.8,991.2 L909.8,989.0 L910.5,995.5 L910.5,1242.8 L938.9,1242.8 L939.9,1238.5 L940.5,1241.7 L941.0,1240.6 L941.6,1240.0 L942.7,1244.9 L943.8,1244.3 L944.2,1247.0 L944.9,1248.8 L946.0,1244.1 L946.4,1246.0 L948.5,1246.0 L949.6,1240.6 L950.2,1189.0 L950.9,1124.5 L951.8,1070.8 L952.8,1038.5 L954.3,1017.0 L956.0,1002.0 L957.0,997.0 L958.2,995.5 L959.2,991.7 L960.3,994.1 L961.4,990.1 L962.5,991.9 L963.6,987.3 L964.6,989.0 L965.7,983.7 L966.8,988.0 L971.1,988.0 L975.4,988.0 L978.6,988.0 L979.3,967.5 L980.3,997.6 L981.9,986.9 L982.3,987.9 L983.6,982.6 L985.1,991.2 L986.6,978.3 L988.3,993.4 L990.0,986.9 L991.1,990.5 L991.5,989.0 L993.0,1002.0 L994.8,991.2 L995.5,992.5 L996.6,987.2 L996.9,989.0 L997.7,990.3 L998.8,985.0 L999.0,986.9 L999.9,987.3 L1001.2,982.6 L1002.1,982.4 L1002.9,978.3 L1004.4,989.0 L1005.4,987.9 L1006.6,991.2 L1007.6,987.6 L1008.1,989.0 L1009.4,978.3 L1010.2,963.2 L1011.5,952.5 L1012.6,969.7 L1013.1,972.5 L1014.1,971.9 L1014.2,969.8 L1015.3,974.7 L1015.8,972.9 L1017.3,972.9 L1017.5,974.6 L1018.6,968.1 L1018.8,969.7 L1019.7,971.3 L1020.5,968.6 L1022.7,968.6 L1023.0,967.3 L1024.1,974.2 L1024.8,974.0 L1025.9,980.5 L1027.0,971.9 L1027.4,970.3 L1028.5,975.8 L1028.7,974.0 L1029.6,973.2 L1030.2,976.1 L1030.7,978.9 L1031.7,978.3 L1031.8,976.3 L1033.0,980.5 L1033.9,1017.0 L1034.7,1081.5 L1035.6,1124.5 L1036.2,1154.6 L1036.9,1124.5 L1037.8,1060.0 L1038.4,1017.0 L1039.5,999.8 L1041.0,989.0 L1043.1,980.5 L1043.9,981.0 L1045.0,974.6 L1045.3,976.1 L1046.1,977.0 L1047.2,971.2 L1047.4,972.9 L1048.3,974.6 L1049.6,971.9 L1050.5,972.6 L1051.7,968.6 L1052.7,973.2 L1053.9,974.0 L1054.9,976.6 L1056.0,975.1 L1057.1,977.7 L1058.2,976.1" fill="none" stroke="#4e6ecf" stroke-width="2.4" stroke-linejoin="round" stroke-linecap="round"/>
<circle cx="440.7" cy="1369.6" r="10.8" fill="#4269d0"/>
<text x="457.8" y="1376.4" class="lg" letter-spacing="0.07">Temperature_Growbox</text>
<line x1="47.8" y1="1444.50" x2="1058.4" y2="1444.50" stroke="#323232" stroke-width="1"/>
<text x="47.3" y="1450.10" text-anchor="end" class="ax">1,6</text>
<line x1="47.8" y1="1527.80" x2="1058.4" y2="1527.80" stroke="#323232" stroke-width="1"/>
<text x="47.3" y="1533.40" text-anchor="end" class="ax">1,4</text>
<line x1="47.8" y1="1611.40" x2="1058.4" y2="1611.40" stroke="#323232" stroke-width="1"/>
<text x="47.3" y="1617.00" text-anchor="end" class="ax">1,2</text>
<line x1="47.8" y1="1694.00" x2="1058.4" y2="1694.00" stroke="#323232" stroke-width="1"/>
<text x="47.3" y="1699.60" text-anchor="end" class="ax">1</text>
<line x1="47.8" y1="1776.50" x2="1058.4" y2="1776.50" stroke="#323232" stroke-width="1"/>
<text x="47.3" y="1782.10" text-anchor="end" class="ax">0,8</text>
<line x1="47.8" y1="1859.50" x2="1058.4" y2="1859.50" stroke="#323232" stroke-width="1"/>
<text x="47.3" y="1865.10" text-anchor="end" class="ax">0,6</text>
<line x1="55.3" y1="1444.5" x2="55.3" y2="1859.5" stroke="#323232" stroke-width="1"/>
<line x1="1058.4" y1="1444.5" x2="1058.4" y2="1859.5" stroke="#323232" stroke-width="1"/>
<line x1="198.0" y1="1444.5" x2="198.0" y2="1866.70" stroke="#323232" stroke-width="1"/>
<text x="198.0" y="1883.80" text-anchor="middle" class="ax">sab</text>
<line x1="340.6" y1="1444.5" x2="340.6" y2="1866.70" stroke="#323232" stroke-width="1"/>
<text x="340.6" y="1883.80" text-anchor="middle" class="ax">dom</text>
<line x1="484.5" y1="1444.5" x2="484.5" y2="1866.70" stroke="#323232" stroke-width="1"/>
<text x="484.5" y="1883.80" text-anchor="middle" class="ax">lun</text>
<line x1="628.5" y1="1444.5" x2="628.5" y2="1866.70" stroke="#323232" stroke-width="1"/>
<text x="628.5" y="1883.80" text-anchor="middle" class="ax">mar</text>
<line x1="771.5" y1="1444.5" x2="771.5" y2="1866.70" stroke="#323232" stroke-width="1"/>
<text x="771.5" y="1883.80" text-anchor="middle" class="ax">mer</text>
<line x1="915.4" y1="1444.5" x2="915.4" y2="1866.70" stroke="#323232" stroke-width="1"/>
<text x="915.4" y="1883.80" text-anchor="middle" class="ax">gio</text>
<text x="55.3" y="1432.60" class="un">kPa</text>
<path d="M54.7,1626.2 L55.2,1695.0 L56.0,1738.0 L57.1,1763.8 L58.6,1781.0 L60.8,1793.9 L61.6,1793.5 L62.9,1798.2 L63.8,1797.9 L65.0,1802.5 L66.0,1802.3 L67.2,1806.8 L68.2,1805.7 L69.3,1809.0 L70.4,1808.4 L71.5,1812.2 L72.6,1809.5 L73.7,1811.1 L73.7,1813.2 L74.8,1810.2 L75.8,1813.2 L75.9,1815.4 L77.0,1812.4 L78.0,1815.4 L78.1,1817.3 L79.2,1812.1 L80.1,1813.2 L80.3,1815.8 L81.4,1813.8 L82.2,1817.5 L82.5,1819.4 L83.6,1814.1 L84.4,1815.4 L84.7,1817.8 L85.8,1814.7 L86.5,1817.5 L86.9,1820.2 L88.0,1817.6 L88.7,1820.8 L89.8,1815.4 L90.4,1759.5 L91.3,1673.5 L92.4,1630.5 L93.6,1604.7 L95.2,1596.1 L96.9,1587.5 L98.4,1578.9 L100.5,1572.5 L101.2,1569.7 L102.3,1572.8 L102.7,1570.3 L103.4,1568.6 L104.5,1573.3 L104.8,1571.4 L105.6,1568.9 L106.7,1572.5 L107.0,1570.3 L107.8,1565.8 L108.5,1566.0 L109.8,1578.9 L110.6,1587.5 L111.7,1557.4 L112.8,1548.8 L113.6,1540.2 L114.5,1531.6 L115.6,1557.4 L117.1,1566.0 L117.7,1568.9 L118.8,1568.2 L119.9,1574.6 L121.0,1563.8 L122.0,1574.6 L123.1,1609.0 L124.2,1643.4 L125.2,1609.0 L127.0,1587.5 L127.6,1583.6 L128.5,1583.2 L128.7,1584.7 L130.0,1578.9 L131.3,1574.6 L132.8,1564.9 L133.8,1576.8 L135.6,1587.5 L136.4,1587.8 L137.1,1591.8 L137.5,1593.5 L138.6,1588.2 L139.2,1589.7 L139.7,1590.8 L140.8,1584.4 L141.4,1585.3 L141.9,1588.5 L143.0,1586.5 L144.1,1592.9 L144.6,1591.8 L145.2,1588.9 L146.3,1591.6 L147.4,1586.0 L147.8,1587.5 L148.5,1588.7 L149.6,1583.0 L150.7,1585.8 L151.1,1583.2 L154.3,1583.2 L155.1,1584.8 L156.2,1579.8 L157.5,1581.0 L158.4,1578.4 L159.5,1581.8 L160.7,1578.9 L161.7,1580.3 L162.8,1575.4 L163.9,1576.8 L165.0,1574.0 L166.1,1577.4 L167.2,1574.6 L167.2,1572.5 L168.3,1574.4 L169.3,1570.3 L170.8,1594.0 L172.1,1574.6 L173.6,1561.7 L174.7,1554.2 L175.8,1548.8 L177.3,1566.0 L178.4,1589.7 L179.0,1566.0 L180.1,1546.7 L181.2,1538.0 L183.3,1531.6 L183.7,1532.7 L184.8,1525.8 L185.0,1527.3 L186.5,1538.0 L188.7,1531.6 L189.2,1530.6 L190.3,1537.0 L190.8,1535.9 L191.4,1532.7 L192.5,1534.6 L193.0,1531.6 L193.6,1530.1 L194.7,1535.4 L195.1,1533.8 L196.6,1528.4 L197.5,1544.5 L197.9,1609.0 L198.3,1673.5 L199.2,1727.2 L200.5,1759.5 L202.2,1776.7 L203.9,1785.3 L205.2,1789.6 L205.7,1792.9 L206.5,1792.8 L207.6,1789.6 L208.0,1540.2 L209.1,1543.4 L259.6,1543.4 L259.9,1535.9 L260.8,1563.8 L261.9,1548.8 L263.6,1548.8 L264.0,1547.5 L265.1,1553.9 L265.8,1553.1 L266.2,1551.9 L267.3,1558.3 L267.9,1557.4 L268.4,1556.3 L269.5,1562.7 L270.1,1561.7 L272.2,1561.7 L272.8,1559.0 L273.9,1562.1 L274.4,1559.5 L275.9,1553.1 L276.9,1576.8 L278.2,1548.8 L279.7,1538.0 L280.8,1533.8 L281.9,1546.7 L282.9,1523.0 L283.6,1482.2 L284.5,1523.0 L285.5,1566.0 L286.4,1591.8 L287.7,1574.6 L289.0,1583.2 L290.0,1600.4 L291.1,1578.9 L291.5,1580.5 L292.6,1576.8 L293.7,1577.8 L294.8,1574.6 L294.8,1572.5 L295.9,1575.6 L296.9,1572.5 L297.0,1570.2 L298.0,1570.3 L299.1,1574.6 L299.2,1572.7 L300.3,1578.4 L300.6,1576.8 L301.9,1585.3 L302.7,1561.7 L304.0,1570.3 L304.7,1571.4 L305.5,1568.2 L307.7,1568.2 L308.0,1565.7 L309.1,1568.8 L309.8,1566.0 L311.3,1581.0 L312.6,1570.3 L315.2,1570.3 L315.7,1571.4 L316.8,1565.0 L317.4,1566.0 L318.4,1559.5 L319.0,1557.3 L320.1,1561.1 L321.2,1556.5 L321.6,1558.5 L325.9,1558.5 L326.7,1560.8 L327.8,1556.8 L328.9,1561.3 L330.0,1557.4 L330.2,1559.5 L331.1,1561.4 L332.2,1556.8 L333.5,1558.5 L334.4,1555.7 L335.0,1557.4 L335.5,1560.1 L336.7,1559.5 L337.7,1562.5 L338.8,1559.2 L339.3,1561.7 L340.6,1561.7 L341.0,1587.5 L341.6,1652.0 L342.3,1738.0 L343.1,1781.0 L344.9,1798.2 L347.0,1809.0 L347.6,1808.3 L348.7,1815.2 L349.6,1815.4 L349.8,1813.5 L350.9,1818.6 L352.2,1817.5 L353.1,1821.5 L354.3,1821.8 L355.3,1826.9 L356.5,1828.3 L357.5,1831.7 L358.2,1830.5 L358.6,1828.8 L359.7,1834.0 L360.4,1832.6 L360.8,1831.0 L361.9,1836.2 L362.5,1834.8 L363.0,1833.2 L364.1,1838.5 L364.6,1836.9 L365.2,1835.9 L366.3,1842.3 L366.8,1841.2 L370.0,1841.2 L373.2,1841.2 L374.0,1837.6 L375.1,1839.6 L375.4,1836.9 L376.5,1824.0 L377.6,1759.5 L378.6,1673.5 L379.3,1630.5 L380.3,1609.0 L381.4,1591.8 L382.9,1581.0 L385.1,1574.6 L386.1,1575.7 L387.2,1572.5 L388.3,1573.5 L389.4,1570.3 L389.4,1568.2 L390.5,1571.3 L391.5,1568.2 L391.6,1565.9 L392.7,1567.9 L393.7,1563.8 L393.8,1561.8 L394.9,1566.6 L395.8,1564.9 L396.0,1562.9 L397.1,1567.7 L398.0,1566.0 L401.2,1566.0 L403.4,1566.0 L403.7,1567.7 L404.8,1562.5 L405.5,1563.8 L405.9,1564.9 L407.0,1558.0 L407.2,1559.5 L408.1,1560.4 L408.7,1557.4 L409.8,1537.0 L410.9,1557.4 L411.9,1600.4 L413.0,1583.2 L414.5,1570.3 L414.7,1572.0 L415.8,1565.0 L416.2,1566.0 L418.0,1548.8 L419.0,1561.7 L420.1,1587.5 L421.0,1570.3 L421.3,1572.9 L422.3,1572.5 L422.4,1570.5 L423.5,1576.3 L423.8,1574.6 L424.6,1573.7 L425.3,1576.8 L427.0,1576.8 L428.7,1583.2 L430.2,1600.4 L431.3,1609.0 L432.4,1596.1 L433.9,1578.9 L435.6,1570.3 L436.7,1570.2 L437.8,1566.0 L437.8,1563.8 L438.9,1565.8 L439.9,1561.7 L440.0,1559.5 L441.1,1562.6 L442.0,1559.5 L442.2,1557.3 L443.3,1560.4 L444.2,1557.4 L444.4,1554.9 L445.5,1556.9 L446.4,1553.1 L446.6,1550.8 L447.7,1553.8 L448.5,1551.0 L448.8,1549.2 L449.9,1554.4 L450.6,1553.1 L451.0,1551.4 L452.1,1556.6 L452.8,1555.2 L453.2,1552.3 L454.3,1554.3 L454.9,1551.0 L456.7,1557.4 L458.2,1576.8 L459.7,1609.0 L461.0,1587.5 L462.5,1561.7 L464.6,1551.0 L466.8,1544.5 L468.6,1544.5 L470.3,1538.0 L470.8,1535.3 L471.8,1535.9 L471.9,1538.2 L473.0,1537.2 L473.3,1540.2 L474.1,1540.4 L475.1,1535.9 L475.2,1534.0 L476.3,1539.6 L476.8,1538.0 L477.4,1534.1 L478.3,1533.8 L478.5,1535.2 L479.8,1529.5 L480.7,1531.0 L481.5,1528.4 L481.8,1526.8 L482.9,1533.1 L483.2,1531.6 L484.1,1566.0 L484.7,1630.5 L485.4,1695.0 L486.2,1738.0 L487.5,1766.0 L489.0,1778.8 L489.5,1782.4 L490.6,1781.5 L491.2,1785.3 L491.7,1788.4 L492.8,1786.5 L493.3,1789.6 L493.9,1791.1 L495.0,1785.8 L495.5,1787.5 L497.6,1793.9 L498.3,1796.7 L499.4,1793.6 L499.8,1796.0 L500.5,1798.5 L501.6,1794.9 L501.9,1797.1 L502.7,1799.6 L503.8,1796.0 L504.1,1798.2 L506.2,1798.2 L507.1,1800.7 L508.4,1799.3 L509.3,1801.8 L510.5,1800.3 L512.7,1800.3 L514.2,1806.8 L514.8,1803.1 L515.9,1802.5 L515.9,1804.6 L517.0,1799.3 L518.0,1800.3 L518.1,1802.4 L519.2,1796.8 L519.8,1798.2 L520.6,1759.5 L521.3,1673.5 L521.9,1609.0 L522.8,1566.0 L524.1,1540.2 L525.6,1527.3 L525.8,1524.8 L526.9,1526.7 L527.7,1523.0 L528.0,1520.6 L529.1,1523.7 L529.9,1520.8 L530.2,1518.1 L531.3,1520.1 L532.0,1516.5 L532.4,1514.1 L533.5,1517.2 L534.2,1514.4 L534.6,1511.9 L535.7,1515.0 L536.3,1512.2 L536.8,1509.5 L537.8,1510.1 L538.7,1538.0 L540.0,1510.1 L540.1,1512.0 L541.3,1508.0 L542.3,1513.0 L542.8,1512.2 L544.3,1469.2 L545.1,1501.5 L546.0,1512.2 L547.1,1531.6 L548.1,1544.5 L549.2,1518.7 L550.3,1510.1 L551.1,1509.8 L552.2,1502.3 L552.5,1503.7 L553.3,1506.6 L554.6,1505.8 L555.5,1508.8 L556.8,1508.0 L557.7,1511.0 L558.9,1510.1 L561.0,1510.1 L562.1,1513.2 L563.2,1512.2 L564.3,1515.5 L565.4,1514.4 L565.4,1512.4 L566.5,1517.6 L567.5,1516.5 L567.6,1514.6 L568.7,1519.8 L569.6,1518.7 L569.8,1516.8 L570.9,1522.4 L571.4,1520.8 L572.9,1508.0 L574.0,1527.3 L575.0,1538.0 L576.1,1557.4 L577.2,1535.9 L578.2,1566.0 L579.5,1572.5 L580.4,1544.5 L581.7,1518.7 L583.0,1508.0 L584.7,1514.4 L586.4,1508.0 L587.4,1508.7 L587.9,1512.2 L589.4,1535.9 L590.7,1553.1 L591.6,1518.7 L593.3,1529.5 L595.0,1535.9 L596.5,1514.4 L598.0,1501.5 L598.4,1498.5 L599.5,1499.9 L599.8,1497.2 L601.9,1488.6 L602.8,1485.4 L603.6,1486.5 L603.9,1487.7 L605.1,1482.2 L606.6,1471.4 L608.4,1501.5 L609.9,1535.9 L611.1,1501.5 L612.6,1475.7 L614.8,1462.8 L614.9,1464.7 L616.0,1458.3 L617.0,1458.5 L617.1,1460.4 L618.2,1455.2 L619.1,1456.3 L619.3,1458.2 L620.4,1453.0 L621.2,1454.2 L621.5,1455.8 L622.6,1449.4 L623.4,1449.9 L623.7,1451.5 L624.8,1445.7 L625.5,1446.7 L625.9,1448.1 L626.6,1444.5 L627.3,1449.9 L627.7,1501.5 L628.3,1566.0 L629.0,1630.5 L629.9,1673.5 L630.9,1690.7 L632.0,1699.3 L633.7,1710.0 L666.4,1710.0 L677.3,1710.0 L677.5,1460.7 L678.3,1501.5 L679.2,1518.7 L680.5,1527.3 L682.2,1538.0 L683.9,1543.4 L684.8,1523.0 L686.1,1495.0 L686.4,1492.0 L687.6,1490.8 L689.1,1477.8 L690.4,1505.8 L691.2,1486.5 L691.9,1489.7 L692.5,1488.6 L694.0,1482.2 L694.1,1484.5 L695.2,1483.4 L695.5,1486.5 L696.3,1490.5 L697.2,1490.8 L697.4,1489.0 L698.5,1496.0 L699.0,1495.0 L699.6,1494.8 L700.5,1499.3 L702.6,1505.8 L702.9,1508.7 L704.1,1510.1 L705.4,1531.6 L706.3,1540.2 L707.1,1501.5 L707.3,1503.2 L708.0,1499.3 L709.1,1505.8 L709.5,1509.1 L710.6,1510.1 L710.6,1508.0 L711.7,1513.6 L712.3,1512.2 L712.8,1510.8 L714.0,1514.4 L715.0,1515.1 L715.5,1518.7 L716.6,1538.0 L717.5,1512.2 L718.3,1515.8 L718.8,1514.4 L719.8,1520.8 L720.9,1501.5 L721.8,1457.4 L722.6,1480.0 L723.5,1523.0 L724.8,1544.5 L724.9,1547.0 L726.0,1545.9 L726.3,1548.8 L727.1,1551.7 L728.2,1548.6 L728.4,1551.0 L730.6,1551.0 L731.5,1555.7 L732.1,1555.2 L733.4,1548.8 L734.9,1548.8 L735.9,1550.4 L737.0,1547.7 L738.1,1548.2 L739.2,1544.5 L740.7,1553.1 L741.5,1568.2 L742.4,1544.5 L742.5,1546.5 L743.6,1540.9 L744.1,1542.3 L744.7,1543.3 L745.8,1536.9 L746.3,1538.0 L746.9,1538.9 L748.0,1532.5 L748.4,1533.8 L749.1,1534.5 L750.2,1528.1 L750.6,1529.5 L752.1,1523.0 L753.6,1529.5 L755.3,1529.5 L755.7,1531.1 L756.8,1525.8 L757.5,1527.3 L757.9,1528.5 L759.0,1522.1 L759.6,1523.0 L760.1,1524.1 L761.2,1517.7 L761.8,1518.7 L763.9,1512.2 L764.5,1513.1 L765.6,1506.8 L766.0,1508.0 L766.7,1508.7 L767.8,1502.4 L768.2,1503.7 L768.9,1504.0 L769.9,1499.3 L770.8,1505.8 L771.4,1587.5 L772.1,1652.0 L772.9,1705.8 L774.2,1738.0 L776.4,1753.0 L778.5,1759.5 L778.8,1757.9 L779.9,1763.9 L781.1,1763.8 L782.1,1767.6 L783.2,1765.2 L783.7,1768.1 L784.3,1770.7 L785.4,1767.3 L786.5,1770.2 L786.5,1772.4 L787.6,1769.0 L788.7,1774.1 L789.3,1772.4 L789.8,1770.7 L790.9,1775.9 L791.9,1774.5 L792.0,1772.6 L793.1,1777.9 L794.0,1776.7 L794.2,1774.8 L795.3,1779.9 L796.6,1778.8 L799.4,1778.8 L799.7,1781.4 L800.8,1778.9 L801.9,1784.8 L802.2,1783.2 L803.0,1783.4 L803.7,1787.5 L804.1,1788.9 L805.2,1785.3 L806.5,1778.8 L807.3,1716.5 L808.0,1652.0 L808.6,1609.0 L809.5,1574.6 L810.8,1557.4 L812.9,1548.8 L814.0,1545.8 L815.1,1549.1 L815.5,1546.7 L816.2,1544.0 L817.3,1547.2 L818.1,1544.5 L818.4,1541.9 L819.5,1544.4 L820.6,1538.5 L820.9,1540.2 L821.7,1541.5 L822.8,1536.2 L823.0,1538.0 L823.9,1539.7 L825.2,1537.0 L826.2,1555.2 L827.3,1538.0 L828.3,1539.7 L829.5,1537.0 L830.5,1541.6 L831.6,1542.3 L832.7,1545.5 L833.8,1544.5 L833.8,1542.4 L834.9,1544.9 L835.9,1541.3 L836.0,1539.3 L837.1,1545.1 L838.1,1544.5 L840.2,1537.0 L840.4,1535.1 L841.5,1541.0 L842.4,1540.2 L842.6,1538.3 L843.7,1543.6 L844.5,1542.3 L844.8,1540.5 L845.9,1545.8 L846.7,1544.5 L847.0,1542.7 L848.1,1548.0 L848.8,1546.7 L849.2,1544.9 L850.3,1550.2 L851.0,1548.8 L851.4,1546.9 L852.5,1551.7 L853.1,1549.9 L853.6,1549.0 L854.7,1555.9 L855.3,1555.2 L856.4,1581.0 L857.4,1557.4 L858.0,1554.1 L859.1,1556.1 L859.6,1553.1 L860.2,1549.1 L861.3,1550.0 L861.7,1546.7 L862.4,1543.9 L863.5,1547.0 L863.9,1544.5 L864.6,1541.7 L865.7,1544.8 L866.0,1542.3 L866.8,1538.3 L867.9,1539.8 L868.2,1537.0 L869.0,1535.3 L870.1,1540.0 L870.3,1538.0 L871.2,1535.5 L872.5,1537.0 L873.4,1535.3 L874.6,1538.0 L875.6,1535.0 L876.8,1535.9 L879.3,1523.0 L880.4,1557.4 L881.7,1576.8 L883.0,1553.1 L884.2,1535.9 L885.5,1531.6 L886.6,1528.2 L887.2,1529.5 L889.0,1518.7 L891.5,1518.7 L894.8,1518.7 L898.0,1518.7 L898.7,1520.5 L899.8,1515.9 L900.6,1517.6 L900.9,1519.1 L902.0,1512.9 L902.3,1514.4 L903.1,1515.7 L904.2,1510.4 L904.5,1512.2 L905.3,1512.6 L906.6,1508.0 L907.5,1508.2 L908.8,1503.7 L909.7,1507.3 L910.0,1505.8 L910.5,1544.5 L910.5,1781.0 L937.8,1781.0 L938.4,1783.2 L939.3,1777.8 L939.4,1775.7 L940.5,1780.3 L941.6,1776.6 L942.1,1778.8 L942.7,1780.7 L943.8,1776.2 L944.9,1780.0 L945.3,1777.8 L946.0,1775.9 L947.1,1780.3 L948.2,1776.4 L949.3,1780.9 L949.6,1778.8 L950.2,1738.0 L950.9,1673.5 L951.5,1609.0 L952.4,1566.0 L953.5,1544.5 L955.0,1529.5 L957.1,1518.7 L959.3,1512.2 L960.3,1512.3 L961.4,1508.0 L962.5,1509.3 L963.6,1504.4 L964.6,1505.8 L964.7,1507.8 L965.8,1502.5 L966.8,1503.7 L966.9,1505.9 L968.0,1502.8 L969.0,1505.8 L973.2,1505.8 L978.6,1505.8 L979.3,1499.3 L980.3,1523.0 L981.9,1510.1 L983.6,1518.7 L985.1,1503.7 L986.1,1531.6 L987.9,1508.0 L989.4,1518.7 L990.9,1512.2 L992.6,1523.0 L993.7,1535.9 L994.8,1523.0 L996.5,1514.4 L996.6,1512.2 L997.7,1515.3 L998.6,1512.2 L998.8,1509.9 L999.9,1512.5 L1000.1,1510.1 L1001.0,1507.1 L1002.3,1508.0 L1003.2,1504.0 L1004.4,1503.7 L1005.4,1502.5 L1006.6,1505.8 L1008.1,1514.4 L1009.4,1523.0 L1010.2,1501.5 L1011.1,1473.5 L1012.4,1488.6 L1013.1,1491.6 L1014.1,1490.8 L1014.2,1488.5 L1015.3,1491.6 L1016.2,1488.6 L1016.4,1486.9 L1017.5,1493.8 L1018.0,1492.9 L1018.6,1489.0 L1019.5,1488.6 L1021.6,1488.6 L1021.9,1490.1 L1023.0,1483.7 L1023.8,1484.3 L1025.3,1490.8 L1026.6,1497.2 L1027.4,1486.5 L1029.2,1480.0 L1030.9,1473.5 L1031.8,1472.8 L1032.4,1475.7 L1033.5,1480.0 L1034.3,1544.5 L1035.2,1609.0 L1036.0,1652.0 L1036.7,1682.1 L1037.3,1652.0 L1038.2,1587.5 L1039.0,1533.8 L1039.9,1505.8 L1041.0,1492.9 L1042.0,1486.5 L1042.8,1482.8 L1043.9,1484.8 L1044.2,1482.2 L1045.0,1478.1 L1045.9,1477.8 L1046.1,1479.6 L1047.2,1473.2 L1048.1,1473.5 L1048.3,1475.5 L1049.4,1470.3 L1050.7,1471.4 L1051.6,1468.4 L1052.8,1469.2 L1053.8,1466.1 L1055.0,1467.1 L1056.0,1464.5 L1057.1,1466.0" fill="none" stroke="#4e6ecf" stroke-width="2.4" stroke-linejoin="round" stroke-linecap="round"/>
<circle cx="467.7" cy="1918.6" r="10.8" fill="#4269d0"/>
<text x="483.9" y="1925.4" class="lg" letter-spacing="-0.1">VPD della Foglia</text>
<rect x="21" y="857.3" width="1037.3" height="2.2" fill="#2b2b2b"/>
<rect x="21" y="1406.8" width="1037.3" height="2.2" fill="#2b2b2b"/>
</svg>
</body></html>
